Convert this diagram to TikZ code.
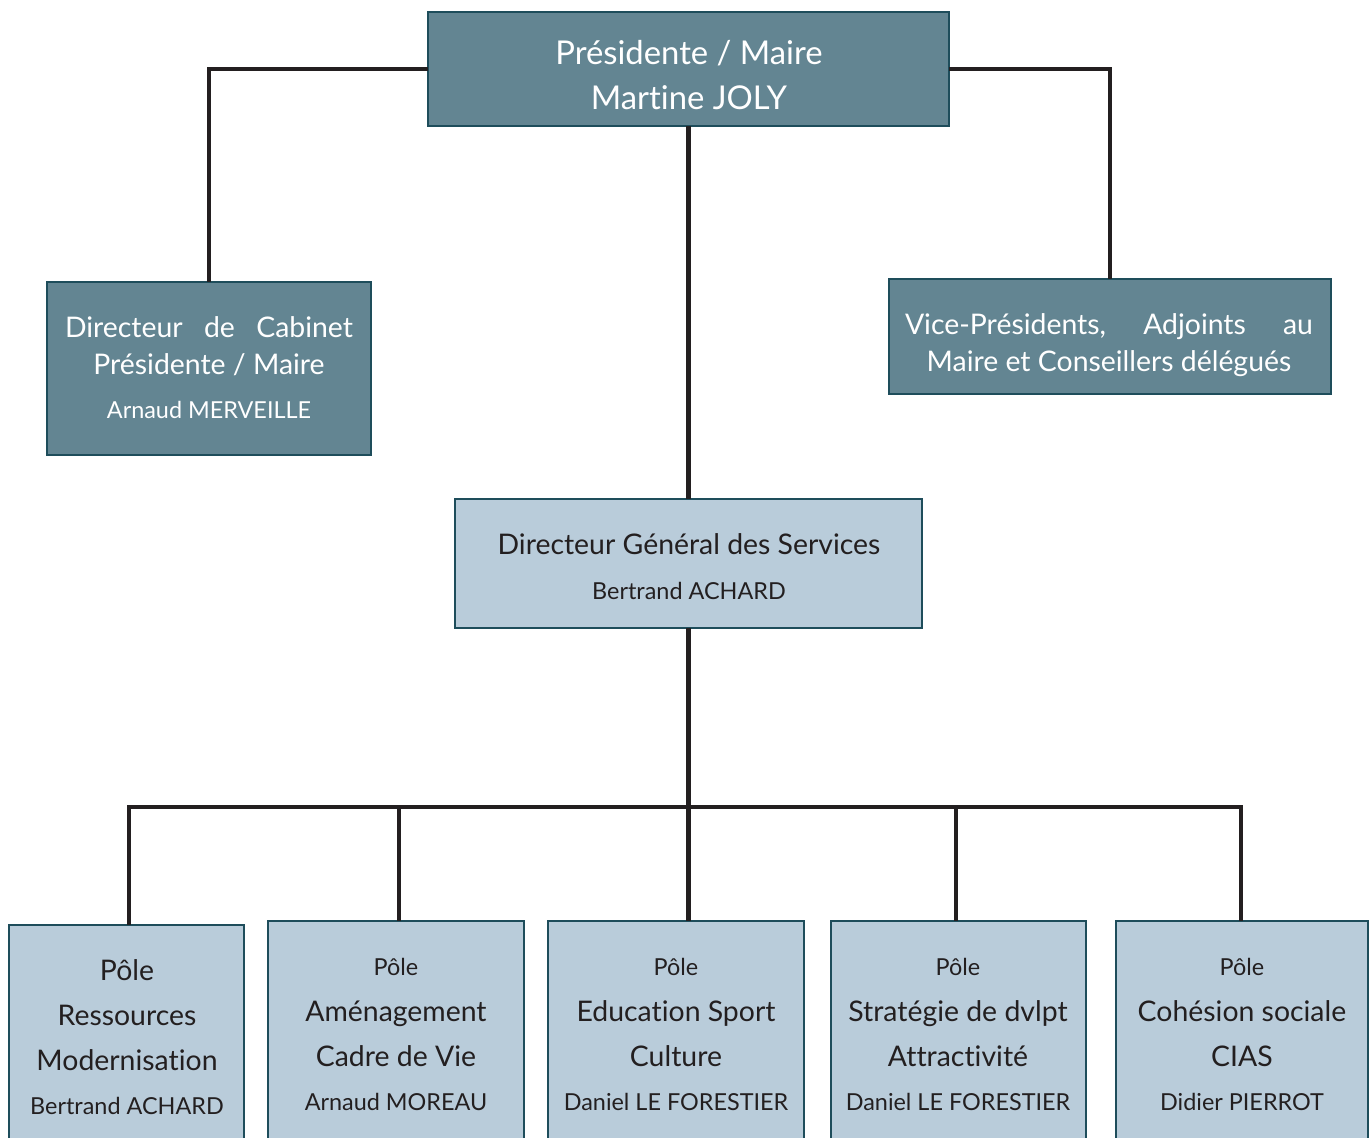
\documentclass[tikz,border=0pt]{standalone}
\usepackage{fontspec}
\setmainfont{Lato}[Ligatures=NoCommon]
\definecolor{darkfill}{HTML}{638592}
\definecolor{lightfill}{HTML}{B9CCDA}
\definecolor{boxline}{HTML}{1E4D5B}
\definecolor{connline}{HTML}{231F20}
\definecolor{darktext}{HTML}{231F20}
\tikzset{
  box/.style={draw=boxline, line width=1.1pt, anchor=north west, inner sep=0pt, outer sep=0pt},
  darkbox/.style={box, fill=darkfill},
  lightbox/.style={box, fill=lightfill},
  conn/.style={draw=connline, line width=2.3pt, line join=miter},
  wt/.style={text=white, inner sep=0pt, anchor=base},
  bt/.style={text=darktext, inner sep=0pt, anchor=base},
  huge/.style={font=\fontsize{16.4}{19}\selectfont},
  big/.style={font=\fontsize{14.2}{16}\selectfont},
  small/.style={font=\fontsize{11.7}{14}\selectfont},
}
\begin{document}
\begin{tikzpicture}[x=0.5pt,y=-0.5pt]
\useasboundingbox (0,0) rectangle (1370,1137);
\clip (0,0) rectangle (1370,1137);
\fill[white] (0,0) rectangle (1370,1137);
% boxes
\node[darkbox, minimum width=260.5pt, minimum height=57pt] (top) at (428,12) {};
\node[darkbox, minimum width=162pt, minimum height=86.5pt] (left) at (47,282) {};
\node[darkbox, minimum width=221pt, minimum height=57.5pt] (right) at (889,279) {};
\node[lightbox, minimum width=233.5pt, minimum height=64.5pt] (dgs) at (455,499) {};
\node[lightbox, minimum width=117.5pt, minimum height=120pt] (b1) at (9,925) {};
\node[lightbox, minimum width=128pt, minimum height=120pt] (b2) at (268,921) {};
\node[lightbox, minimum width=128pt, minimum height=120pt] (b3) at (548,921) {};
\node[lightbox, minimum width=127.5pt, minimum height=120pt] (b4) at (831,921) {};
\node[lightbox, minimum width=126pt, minimum height=120pt] (b5) at (1116,921) {};
% connectors
\coordinate (bus) at (688.5,807);
\draw[conn] (top.west) -| (left.north);
\draw[conn] (top.east) -| (right.north);
\draw[conn] (top.south) -- (dgs.north);
\draw[conn] (dgs.south) -- (bus);
\draw[conn] ([xshift=1.25pt]b1.north) |- (bus) -| ([xshift=-0.5pt]b5.north);
\draw[conn] ([xshift=1.5pt]b2.north) -- ([xshift=1.5pt]b2.north |- bus);
\draw[conn] (bus) -- (bus |- b3.north);
\draw[conn] ([xshift=-1.25pt]b4.north) -- ([xshift=-1.25pt]b4.north |- bus);
% texts
\node[wt, huge] (t1) at (689,64) {Présidente / Maire};
\node[wt, huge] (t2) at (689,109) {Martine JOLY};
\node[wt, big] (l1) at (209,337) {\makebox[144pt][s]{Directeur\hfill de\hfill Cabinet}};
\node[wt, big] (l2) at (209,374) {Présidente / Maire};
\node[wt, small] (l3) at (209,418) {Arnaud MERVEILLE};
\node[wt, big] (r1) at (1109,334) {\makebox[204pt][s]{Vice-Présidents,\hfill Adjoints\hfill au}};
\node[wt, big] (r2) at (1109,371) {Maire et Conseillers délégués};
\node[bt, big] (d1) at (689,554) {Directeur Général des Services};
\node[bt, small] (d2) at (689,599) {Bertrand ACHARD};
\node[bt, big] (p11) at (127,980) {Pôle};
\node[bt, big] (p12) at (127,1025) {Ressources};
\node[bt, big] (p13) at (127,1070) {Modernisation};
\node[bt, small] (p14) at (127,1114) {Bertrand ACHARD};
\node[bt, small] (p21) at (396,975) {Pôle};
\node[bt, big] (p22) at (396,1021) {Aménagement};
\node[bt, big] (p23) at (396,1066) {Cadre de Vie};
\node[bt, small] (p24) at (396,1110) {Arnaud MOREAU};
\node[bt, small] (p31) at (676,975) {Pôle};
\node[bt, big] (p32) at (676,1021) {Education Sport};
\node[bt, big] (p33) at (676,1066) {Culture};
\node[bt, small] (p34) at (676,1110) {Daniel LE FORESTIER};
\node[bt, small] (p41) at (958,975) {Pôle};
\node[bt, big] (p42) at (958,1021) {Stratégie de dvlpt};
\node[bt, big] (p43) at (958,1066) {Attractivité};
\node[bt, small] (p44) at (958,1110) {Daniel LE FORESTIER};
\node[bt, small] (p51) at (1242,975) {Pôle};
\node[bt, big] (p52) at (1242,1021) {Cohésion sociale};
\node[bt, big] (p53) at (1242,1066) {CIAS};
\node[bt, small] (p54) at (1242,1110) {Didier PIERROT};
\end{tikzpicture}
\end{document}
